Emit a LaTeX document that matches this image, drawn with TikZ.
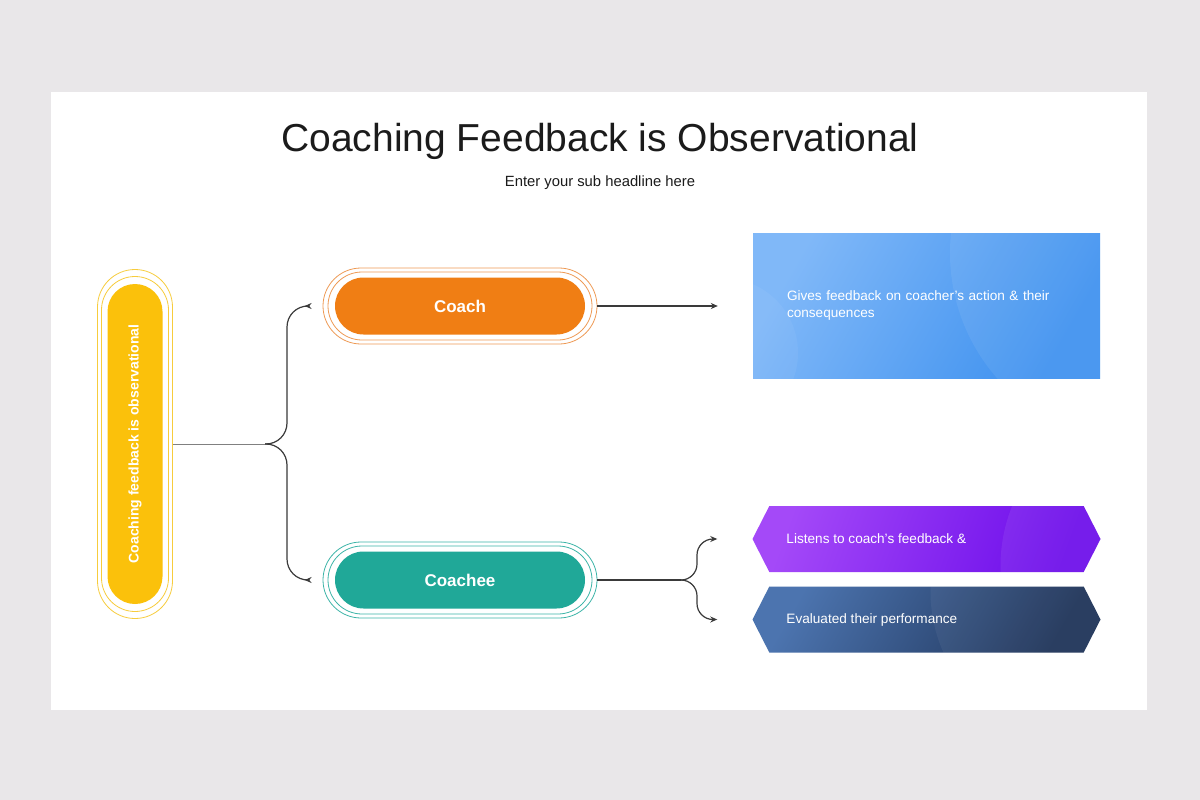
\documentclass[tikz,border=0pt]{standalone}
\usepackage{fontspec}
\setmainfont{Liberation Sans}
\usetikzlibrary{positioning,shapes.misc,shapes.symbols,arrows.meta}

\definecolor{bggray}{HTML}{E9E7E9}
\definecolor{titlec}{HTML}{1B1B1B}
\definecolor{linec}{HTML}{3A3A3A}
\definecolor{yellowc}{HTML}{FBC10B}
\definecolor{yellowr}{HTML}{F7CC3C}
\definecolor{orangec}{HTML}{F07E14}
\definecolor{oranger}{HTML}{EE9A55}
\definecolor{tealc}{HTML}{20A898}
\definecolor{tealr}{HTML}{3DB5A8}
\definecolor{bluea}{HTML}{80B8F8}
\definecolor{blueb}{HTML}{3E91EF}
\definecolor{purplea}{HTML}{A449F8}
\definecolor{purpleb}{HTML}{6C0CEA}
\definecolor{navya}{HTML}{4C74AF}
\definecolor{navyb}{HTML}{1F3459}

\tikzset{
  pill/.style={rounded rectangle, fill=#1, text=white,
    font=\bfseries\fontsize{17}{20}\selectfont,
    minimum width=250pt, minimum height=57pt, inner sep=0pt},
  ring/.style={rounded rectangle, draw=#1, line width=0.8pt, inner sep=0pt},
  conn/.style={draw=linec, line width=1.2pt, -{Stealth[length=7pt,width=6pt]}},
  boxtext/.style={text=white, font=\fontsize{13.6}{17}\selectfont, align=left, inner sep=0pt},
  hexbox/.style={signal, signal to=west and east, signal pointer angle=126,
    minimum width=348pt, minimum height=66pt, inner sep=0pt},
  gloss/.style={fill=white, opacity=#1},
}

\begin{document}
\begin{tikzpicture}[x=1pt,y=-1pt]
  \def\W{1200}
  \def\H{800}
  % page and card
  \fill[bggray] (0,0) rectangle (\W,\H);
  \fill[white] (51,92) rectangle (1147,710);
  \useasboundingbox (0,0) rectangle (\W,\H);

  \node[text=titlec, font=\fontsize{39}{46}\selectfont] (title) at (600,141) {Coaching Feedback is Observational};
  \node[text=titlec, font=\fontsize{14.8}{18}\selectfont] (subtitle) at (600,183) {Enter your sub headline here};

  % left pill
  \node[pill=yellowc, rotate=90, minimum width=320pt, minimum height=55pt,
        font=\bfseries\fontsize{14}{17}\selectfont] (coaching) at (135,444) {Coaching feedback is observational};
  \node[ring=yellowr, rotate=90, minimum width=335pt, minimum height=67pt] (coachingin) at (coaching) {};
  \node[ring=yellowr, rotate=90, minimum width=349pt, minimum height=75pt] (coachingout) at (coaching) {};

  % middle pills
  \node[pill=orangec] (coach) at (460,306) {Coach};
  \node[ring=oranger, minimum width=264pt, minimum height=68pt] (coachin) at (coach) {};
  \node[ring=oranger, minimum width=274pt, minimum height=76pt] (coachout) at (coach) {};

  \node[pill=tealc] (coachee) at (460,580) {Coachee};
  \node[ring=tealr, minimum width=264pt, minimum height=68pt] (coacheein) at (coachee) {};
  \node[ring=tealr, minimum width=274pt, minimum height=76pt] (coacheeout) at (coachee) {};

  % right boxes
  \node[rectangle, minimum width=347pt, minimum height=145pt, inner sep=0pt,
        left color=bluea, right color=blueb, shading angle=60,
        path picture={
          \fill[gloss=0.07] ([xshift=40pt,yshift=-20pt]path picture bounding box.north east) circle[radius=190pt];
          \fill[gloss=0.05] ([xshift=-30pt,yshift=25pt]path picture bounding box.south west) circle[radius=75pt];
        }] (gives) at (926.5,305.5) {};
  \node[boxtext, anchor=west, text width=300pt] (givestext) at ([xshift=34pt]gives.west)
    {Gives feedback on coacher's action \& their\\consequences};

  \node[hexbox, left color=purplea, right color=purpleb, shading angle=70,
        path picture={
          \fill[gloss=0.07] ([xshift=60pt,yshift=-60pt]path picture bounding box.north east) circle[radius=160pt];
        }] (listens) at (926.5,539) {};
  \node[boxtext, anchor=west] (listenstext) at ([xshift=34pt]listens.west) {Listens to coach's feedback \&};

  \node[hexbox, left color=navya, right color=navyb, shading angle=60,
        path picture={
          \fill[gloss=0.05] ([xshift=-20pt,yshift=-5pt]path picture bounding box.north east) circle[radius=150pt];
        }] (evaluated) at (926.5,619.5) {};
  \node[boxtext, anchor=west] (evaluatedtext) at ([xshift=34pt]evaluated.west) {Evaluated their performance};

  % connectors
  \coordinate (split) at (287,444);
  \coordinate (coachtip) at ([xshift=-18pt]coachout.west);
  \coordinate (coacheetip) at ([xshift=-18pt]coacheeout.west);
  \draw[conn, draw=gray, line width=0.8pt, -] (coachingout.south) -- ([xshift=-22pt]split);
  \draw[conn, rounded corners=21pt] ([xshift=-22pt]split) -- (split) |- (coachtip);
  \draw[conn, rounded corners=21pt] ([xshift=-22pt]split) -- (split) |- (coacheetip);

  \draw[conn] (coachout.east) -- ([xshift=-35pt]gives.west |- coachout.east);

  \coordinate (split2) at (697,580);
  \draw[conn, -] (coacheeout.east) -- ([xshift=-16pt]split2);
  \draw[conn, rounded corners=16pt] ([xshift=-16pt]split2) -- (split2) |- ([xshift=-35pt]listens.west);
  \draw[conn, rounded corners=16pt] ([xshift=-16pt]split2) -- (split2) |- ([xshift=-35pt]evaluated.west);
\end{tikzpicture}
\end{document}
